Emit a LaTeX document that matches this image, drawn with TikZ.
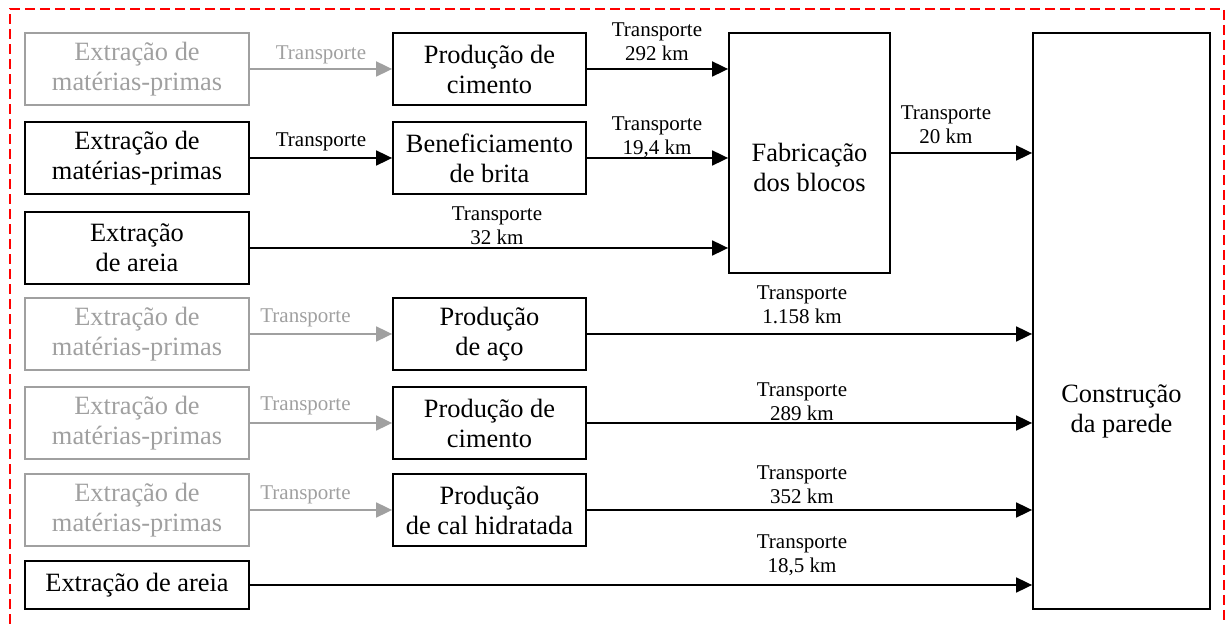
\documentclass[tikz,border=0pt]{standalone}
\usepackage{fontspec}
\setmainfont{Liberation Serif}
\usetikzlibrary{arrows.meta}
\definecolor{cinza}{RGB}{160,160,160}
\definecolor{vermelho}{RGB}{255,0,0}

\begin{document}
\begin{tikzpicture}[x=0.5pt,y=-0.5pt,
	caixa/.style={draw,line width=0.9pt,inner sep=0pt,align=center,font=\fontsize{13.2}{15}\selectfont},
	col1/.style={caixa,minimum width=112pt,minimum height=36pt},
	col2/.style={caixa,minimum width=96.5pt,minimum height=36pt},
	apagado/.style={draw=cinza,text=cinza},
	seta/.style={line width=0.9pt,-{Triangle[length=8pt,width=7.5pt]}},
	rotulo/.style={align=center,inner sep=0pt,font=\fontsize{10.5}{12}\selectfont}]
\useasboundingbox (0,0) rectangle (1227,624);
\draw[vermelho,line width=1.3pt,dash pattern=on 5pt off 2.5pt] (10,624) -- (10,9) -- (1224,9) -- (1224,624);
% primeira coluna
\node[col1,apagado] (ext1) at (137,69) {Extração de\\matérias-primas};
\node[col1] (ext2) at (137,158) {Extração de\\matérias-primas};
\node[col1] (areia1) at (137,248) {Extração\\de areia};
\node[col1,apagado] (ext3) at (137,334) {Extração de\\matérias-primas};
\node[col1,apagado] (ext4) at (137,423) {Extração de\\matérias-primas};
\node[col1,apagado] (ext5) at (137,510) {Extração de\\matérias-primas};
\node[col1,minimum height=24pt] (areia2) at (137,585) {Extração de areia};
% segunda coluna
\node[col2] (cim1) at (489.5,69) {Produção de\\cimento};
\node[col2] (brita) at (489.5,158) {Beneficiamento\\de brita};
\node[col2] (aco) at (489.5,334) {Produção\\de aço};
\node[col2] (cim2) at (489.5,423) {Produção de\\cimento};
\node[col2] (cal) at (489.5,510) {Produção\\de cal hidratada};
% blocos e parede
\node[caixa,minimum width=80.5pt,minimum height=120pt] (fab) at (809.5,153) {};
\node[caixa,draw=none] (fabtxt) at (809.5,167) {Fabricação\\dos blocos};
\node[caixa,minimum width=88.5pt,minimum height=288pt] (parede) at (1121.5,321) {};
\node[caixa,draw=none] (paredetxt) at (1121.5,411) {Construção\\da parede};
% setas
\draw[seta,cinza] (ext1) -- (cim1);
\draw[seta] (ext2) -- (brita);
\draw[seta,cinza] (ext3) -- (aco);
\draw[seta,cinza] (ext4) -- (cim2);
\draw[seta,cinza] (ext5) -- (cal);
\draw[seta] (cim1) -- (cim1 -| fab.west);
\draw[seta] (brita) -- (brita -| fab.west);
\draw[seta] (areia1) -- (areia1 -| fab.west);
\draw[seta] (fab) -- (fab -| parede.west);
\draw[seta] (aco) -- (aco -| parede.west);
\draw[seta] (cim2) -- (cim2 -| parede.west);
\draw[seta] (cal) -- (cal -| parede.west);
\draw[seta] (areia2) -- (areia2 -| parede.west);
% rotulos
\node[rotulo,text=cinza] (t1) at (321,54.5) {Transporte};
\node[rotulo] (t2) at (321,141.5) {Transporte};
\node[rotulo,text=cinza] (t3) at (305.5,318) {Transporte};
\node[rotulo,text=cinza] (t4) at (305.5,406) {Transporte};
\node[rotulo,text=cinza] (t5) at (305.5,495) {Transporte};
\node[rotulo] (d1) at (657,41.5) {Transporte\\292 km};
\node[rotulo] (d2) at (657,137) {Transporte\\19,4 km};
\node[rotulo] (d3) at (497,225.5) {Transporte\\32 km};
\node[rotulo] (d4) at (946,124.5) {Transporte\\20 km};
\node[rotulo] (d5) at (802,305) {Transporte\\1.158 km};
\node[rotulo] (d6) at (802,401.5) {Transporte\\289 km};
\node[rotulo] (d7) at (802,484.5) {Transporte\\352 km};
\node[rotulo] (d8) at (802,555) {Transporte\\18,5 km};
\end{tikzpicture}
\end{document}
